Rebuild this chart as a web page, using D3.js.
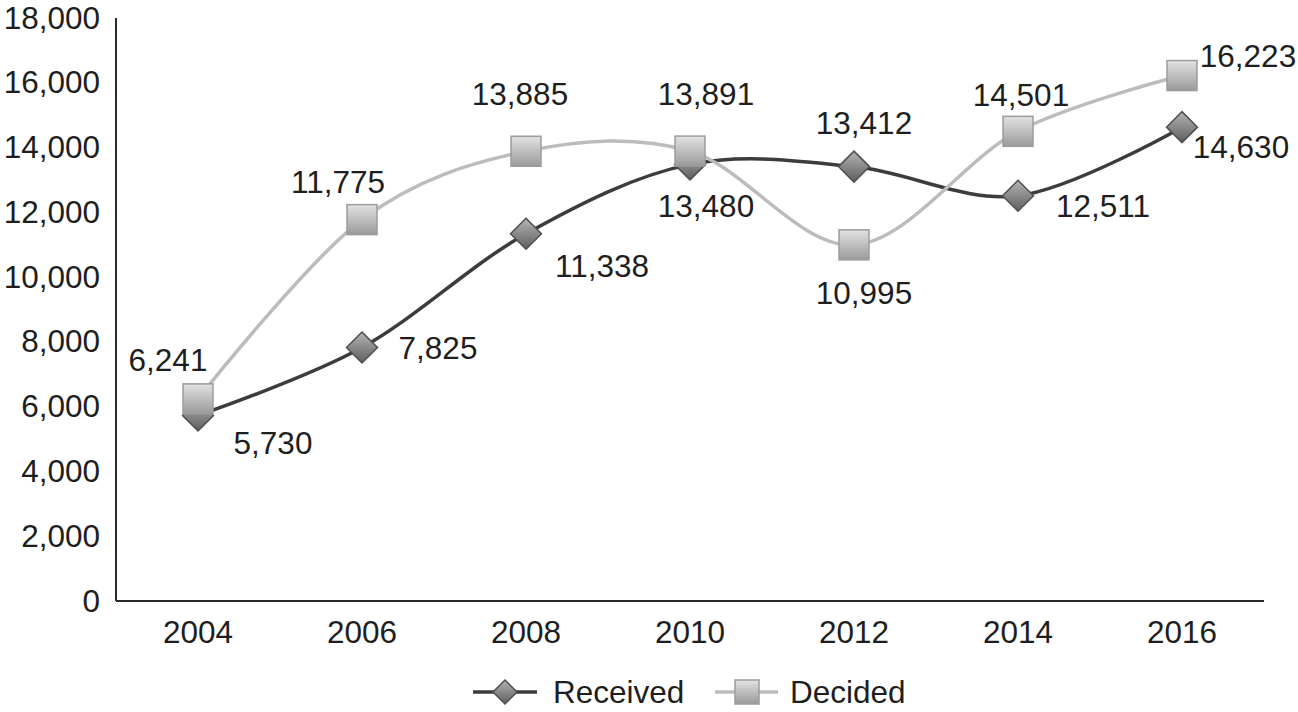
<!DOCTYPE html>
<html><head><meta charset="utf-8">
<script src="https://cdn.jsdelivr.net/npm/d3@7"></script>
<style>html,body{margin:0;padding:0;background:#fff;}svg{display:block;}</style>
</head><body>
<svg id="chart" width="1298" height="712"></svg>
<script>
const years = ["2004","2006","2008","2010","2012","2014","2016"];
const received = [5730, 7825, 11338, 13480, 13412, 12511, 14630];
const decided = [6241, 11775, 13885, 13891, 10995, 14501, 16223];
const yTicks = [0,2000,4000,6000,8000,10000,12000,14000,16000,18000];
// label offsets (styling)
const recLabelOff = [[75,28],[76,0],[76,32],[16,42],[10,-44],[85,10],[59,20]];
const decLabelOff = [[-30,-39],[-24,-38],[-6,-57],[16,-57],[10,48],[3,-36],[66,-20]];

const svg = d3.select("#chart");
const mLeft = 116, mRight = 1264, mTop = 18, mBottom = 601;
const font = "'Liberation Sans', Arial, Helvetica, sans-serif";
const fs = 31.5;

const x = d3.scaleBand().domain(years).range([mLeft, mRight]);
const y = d3.scaleLinear().domain([0, 18000]).range([mBottom, mTop]);
const cx = d => x(d) + x.bandwidth()/2;

const defs = svg.append("defs");
const gD = defs.append("linearGradient").attr("id","gDiamond").attr("x1",0).attr("y1",0).attr("x2",0).attr("y2",1);
gD.append("stop").attr("offset","0%").attr("stop-color","#b4b4b4");
gD.append("stop").attr("offset","100%").attr("stop-color","#5e5e5e");
const gS = defs.append("linearGradient").attr("id","gSquare").attr("x1",0).attr("y1",0).attr("x2",0).attr("y2",1);
gS.append("stop").attr("offset","0%").attr("stop-color","#e2e2e2");
gS.append("stop").attr("offset","100%").attr("stop-color","#9a9a9a");

// axes
const yAxis = d3.axisLeft(y).tickValues(yTicks).tickSize(0).tickPadding(16).tickFormat(d3.format(","));
const ga = svg.append("g").attr("transform",`translate(${mLeft},0)`).call(yAxis);
const xAxis = d3.axisBottom(x).tickSize(0).tickPadding(20);
const gx = svg.append("g").attr("transform",`translate(0,${mBottom})`).call(xAxis);
[ga,gx].forEach(g=>{
  g.select(".domain").attr("stroke","#2a2a2a").attr("stroke-width",2);
  g.selectAll("text").attr("font-family",font).attr("font-size",fs).attr("fill","#1e1e1e");
});
gx.select(".domain").attr("d",`M${mLeft},0H${mRight}`);
ga.select(".domain").attr("d",`M0,${mTop}V${mBottom}`);

const line = d3.line().x((d,i)=>cx(years[i])).y(d=>y(d)).curve(d3.curveCardinal.tension(0));

function diamond(g, px, py, s){
  g.append("path").attr("d",`M${px},${py-s}L${px+s},${py}L${px},${py+s}L${px-s},${py}Z`)
   .attr("fill","url(#gDiamond)").attr("stroke","#505050").attr("stroke-width",1.5);
}
function square(g, px, py, s){
  g.append("rect").attr("x",px-s).attr("y",py-s).attr("width",2*s).attr("height",2*s)
   .attr("fill","url(#gSquare)").attr("stroke","#9c9c9c").attr("stroke-width",1.5);
}

// Received
svg.append("path").datum(received).attr("d",line).attr("fill","none").attr("stroke","#3c3c3c").attr("stroke-width",3.5);
const gr = svg.append("g");
received.forEach((v,i)=>diamond(gr, cx(years[i]), y(v), 15.5));
// Decided
svg.append("path").datum(decided).attr("d",line).attr("fill","none").attr("stroke","#bcbcbc").attr("stroke-width",3.5);
const gd = svg.append("g");
decided.forEach((v,i)=>square(gd, cx(years[i]), y(v), 15));

// labels
const fmt = d3.format(",");
function labels(data, off){
  svg.append("g").selectAll("text").data(data).join("text")
    .attr("x",(d,i)=>cx(years[i])+off[i][0]).attr("y",(d,i)=>y(d)+off[i][1])
    .attr("text-anchor","middle").attr("dominant-baseline","central")
    .attr("font-family",font).attr("font-size",fs).attr("fill","#1e1e1e").text(d=>fmt(d));
}
labels(received, recLabelOff);
labels(decided, decLabelOff);

// legend
const lg = svg.append("g");
const ly = 692;
lg.append("line").attr("x1",473).attr("x2",537).attr("y1",ly).attr("y2",ly).attr("stroke","#3c3c3c").attr("stroke-width",3.5);
diamond(lg, 505, ly, 12);
lg.append("text").attr("x",553).attr("y",ly).attr("dominant-baseline","central").attr("font-family",font).attr("font-size",fs).attr("fill","#1e1e1e").text("Received");
lg.append("line").attr("x1",715).attr("x2",778).attr("y1",ly).attr("y2",ly).attr("stroke","#bcbcbc").attr("stroke-width",3.5);
square(lg, 747, ly, 12);
lg.append("text").attr("x",790).attr("y",ly).attr("dominant-baseline","central").attr("font-family",font).attr("font-size",fs).attr("fill","#1e1e1e").text("Decided");
</script>
</body></html>
